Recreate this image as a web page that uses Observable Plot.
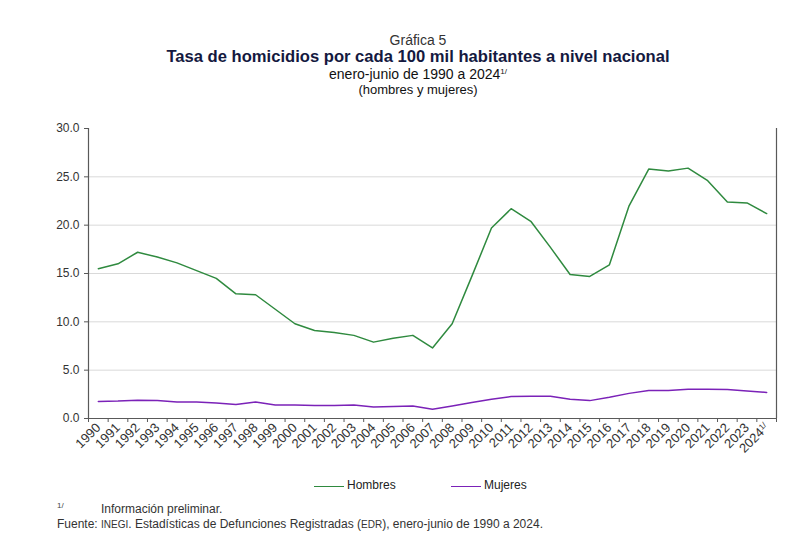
<!DOCTYPE html>
<html>
<head>
<meta charset="utf-8">
<script src="https://cdn.jsdelivr.net/npm/d3@7"></script>
<script src="https://cdn.jsdelivr.net/npm/@observablehq/plot@0.6"></script>
<style>
  html, body { margin: 0; padding: 0; background: #fff; }
  body { font-family: "Liberation Sans", Arial, sans-serif; color: #222; }
  #wrap { position: relative; width: 800px; height: 540px; overflow: hidden; }
  .t { position: absolute; left: 0; width: 836px; text-align: center; white-space: nowrap; line-height: 1; }
  #chart { position: absolute; left: 0; top: 100px; }
  .sup { font-size: 8px; vertical-align: 5px; }
  .sc { font-size: 10px; }
</style>
</head>
<body>
<div id="wrap">
  <div class="t" style="top:33px;font-size:14px;color:#333;">Gráfica 5</div>
  <div class="t" style="top:49px;font-size:16.6px;font-weight:bold;color:#14193f;">Tasa de homicidios por cada 100 mil habitantes a nivel nacional</div>
  <div class="t" style="top:67px;font-size:14px;color:#111;">enero-junio de 1990 a 2024<span class="sup">1/</span></div>
  <div class="t" style="top:83px;font-size:13px;color:#111;">(hombres y mujeres)</div>
  <div id="chart"></div>
  <div id="legend" style="position:absolute;top:478px;left:0;width:800px;height:16px;font-size:12px;color:#222;">
    <div style="position:absolute;left:314px;top:8px;width:30px;height:0;border-top:1.6px solid #2f8a3f;"></div>
    <div style="position:absolute;left:347px;top:0px;">Hombres</div>
    <div style="position:absolute;left:451px;top:8px;width:30px;height:0;border-top:1.6px solid #7b22b8;"></div>
    <div style="position:absolute;left:484px;top:0px;">Mujeres</div>
  </div>
  <div style="position:absolute;left:57px;top:501px;font-size:8px;color:#444;">1/</div>
  <div style="position:absolute;left:101px;top:502px;font-size:12px;color:#333;">Información preliminar.</div>
  <div style="position:absolute;left:57px;top:517px;font-size:12px;color:#333;">Fuente: <span class="sc">INEGI</span>. Estadísticas de Defunciones Registradas (<span class="sc">EDR</span>), enero-junio de 1990 a 2024.</div>
</div>
<script>
const years = [1990,1991,1992,1993,1994,1995,1996,1997,1998,1999,2000,2001,2002,2003,2004,2005,2006,2007,2008,2009,2010,2011,2012,2013,2014,2015,2016,2017,2018,2019,2020,2021,2022,2023,2024];
const hombres = [15.5,16.0,17.2,16.7,16.1,15.3,14.5,12.9,12.8,11.3,9.8,9.1,8.9,8.6,7.9,8.3,8.6,7.3,9.8,14.7,19.7,21.7,20.4,17.7,14.9,14.7,15.9,22.0,25.8,25.6,25.9,24.6,22.4,22.3,21.2];
const mujeres = [1.75,1.8,1.9,1.85,1.7,1.7,1.6,1.45,1.7,1.4,1.4,1.35,1.35,1.4,1.2,1.25,1.3,0.96,1.3,1.65,2.0,2.27,2.3,2.3,2.0,1.85,2.2,2.6,2.9,2.9,3.03,3.03,3.0,2.85,2.7];
const series = ["Hombres", "Mujeres"];
const colors = ["#2f8a3f", "#7b22b8"];
const yTicks = [0,5,10,15,20,25,30];
const gridTicks = [5,10,15,20,25];

const data = [];
years.forEach((y, i) => {
  data.push({year: y, serie: series[0], value: hombres[i]});
  data.push({year: y, serie: series[1], value: mujeres[i]});
});
const x0 = years[0] - 0.5, x1 = years[years.length - 1] + 0.5;
const boundaries = years.map(y => y - 0.5).concat([x1]);
const axisColor = "#595959";

const chart = Plot.plot({
  width: 800,
  height: 370,
  marginTop: 28,
  marginBottom: 52,
  marginLeft: 88,
  marginRight: 24,
  style: {fontFamily: "Liberation Sans, Arial, sans-serif", fontSize: "12px", color: "#333", background: "#fff"},
  x: {domain: [x0, x1]},
  y: {domain: [0, 30]},
  color: {domain: series, range: colors},
  marks: [
    Plot.gridY(gridTicks, {stroke: "#d9d9d9", strokeOpacity: 1, strokeWidth: 1}),
    Plot.axisY(yTicks, {tickFormat: d3.format(".1f"), tickSize: 4, tickPadding: 5, stroke: axisColor, fill: "#333", fontSize: 12, label: null}),
    Plot.axisX(boundaries, {tickSize: 4, tickFormat: () => "", stroke: axisColor, label: null}),
    Plot.axisX(years, {tickSize: 0, tickPadding: 7, tickRotate: -45, tickFormat: d => String(d), fill: "#333", fontSize: 13, label: null}),
    Plot.ruleX([x0], {stroke: axisColor, strokeWidth: 1.2}),
    Plot.ruleX([x1], {stroke: axisColor, strokeWidth: 1.2}),
    Plot.ruleY([0], {stroke: axisColor, strokeWidth: 1.2}),
    Plot.line(data, {x: "year", y: "value", z: "serie", stroke: "serie", strokeWidth: 1.5})
  ]
});
document.getElementById("chart").appendChild(chart);

// superscript on last year label
d3.select(chart).selectAll("text").each(function() {
  if (this.textContent === String(years[years.length - 1])) {
    const t = d3.select(this);
    t.text(String(years[years.length - 1]));
    t.append("tspan").attr("font-size", 8).attr("dy", "-0.5em").text("1/");
  }
});
</script>
</body>
</html>
